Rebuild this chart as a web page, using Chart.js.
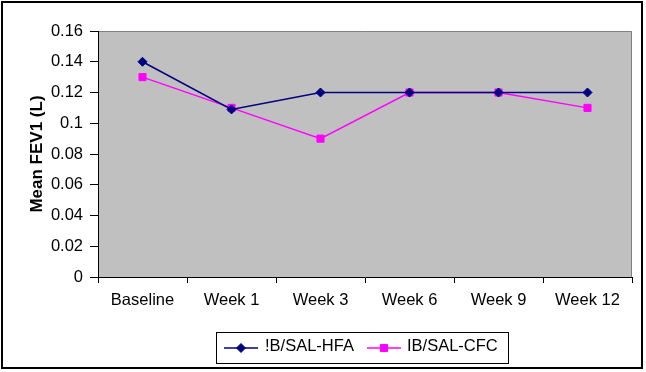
<!DOCTYPE html>
<html>
<head>
<meta charset="utf-8">
<script src="https://cdn.jsdelivr.net/npm/chart.js@4"></script>
<style>
  html, body { margin: 0; padding: 0; background: #ffffff; }
  #wrap { width: 646px; height: 372px; position: relative; }
</style>
</head>
<body>
<div id="wrap"><canvas id="c" width="646" height="372"></canvas></div>
<script>
const categories = ['Baseline', 'Week 1', 'Week 3', 'Week 6', 'Week 9', 'Week 12'];
const hfaValues = [0.14, 0.109, 0.12, 0.12, 0.12, 0.12];
const cfcValues = [0.13, 0.11, 0.09, 0.12, 0.12, 0.11];
const yTickLabels = ['0', '0.02', '0.04', '0.06', '0.08', '0.1', '0.12', '0.14', '0.16'];
const seriesNames = ['!B/SAL-HFA', 'IB/SAL-CFC'];
const yTitle = 'Mean FEV1 (L)';

const FONT = '"Liberation Sans", Arial, sans-serif';

const framePlugin = {
  id: 'frame',
  beforeDraw(chart) {
    const { ctx, chartArea: a } = chart;
    ctx.save();
    ctx.fillStyle = '#c0c0c0';
    ctx.fillRect(a.left, a.top, a.right - a.left, a.bottom - a.top);
    ctx.strokeStyle = '#808080';
    ctx.lineWidth = 1;
    ctx.beginPath();
    ctx.moveTo(a.left, a.top + 0.5);
    ctx.lineTo(a.right - 0.5, a.top + 0.5);
    ctx.lineTo(a.right - 0.5, a.bottom);
    ctx.stroke();
    ctx.restore();
  },
  afterDraw(chart) {
    const ctx = chart.ctx;
    ctx.save();
    ctx.strokeStyle = '#000000';
    ctx.lineWidth = 2;
    ctx.strokeRect(2, 2, 640, 366);
    ctx.lineWidth = 1;
    ctx.strokeRect(216.5, 332.5, 292, 31);
    const items = [
      { x0: 224, x1: 258, mx: 241, tx: 265 },
      { x0: 367, x1: 401, mx: 384, tx: 407 }
    ];
    const ly = 348;
    chart.data.datasets.forEach((ds, i) => {
      const it = items[i];
      ctx.strokeStyle = ds.borderColor;
      ctx.lineWidth = ds.borderWidth;
      ctx.beginPath();
      ctx.moveTo(it.x0, ly);
      ctx.lineTo(it.x1, ly);
      ctx.stroke();
      ctx.fillStyle = ds.pointBackgroundColor;
      ctx.strokeStyle = ds.pointBorderColor;
      ctx.lineWidth = ds.pointBorderWidth;
      Chart.helpers.drawPoint(ctx, { pointStyle: ds.pointStyle, radius: ds.pointRadius, rotation: 0, borderWidth: ds.pointBorderWidth }, it.mx, ly);
      ctx.fillStyle = '#000000';
      ctx.font = '16.5px ' + FONT;
      ctx.textAlign = 'left';
      ctx.textBaseline = 'middle';
      ctx.fillText(ds.label, it.tx, 346);
    });
    ctx.restore();
  }
};

new Chart(document.getElementById('c'), {
  type: 'line',
  data: {
    labels: categories,
    datasets: [
      {
        label: seriesNames[0],
        data: hfaValues,
        borderColor: '#000080',
        backgroundColor: '#000080',
        borderWidth: 1.5,
        pointStyle: 'rectRot',
        pointRadius: 4.5,
        pointBorderWidth: 1,
        pointBackgroundColor: '#000080',
        pointBorderColor: '#000080',
        tension: 0,
        fill: false
      },
      {
        label: seriesNames[1],
        data: cfcValues,
        borderColor: '#ff00ff',
        backgroundColor: '#ff00ff',
        borderWidth: 1.5,
        pointStyle: 'rect',
        pointRadius: 5,
        pointBorderWidth: 1,
        pointBackgroundColor: '#ff00ff',
        pointBorderColor: '#ff00ff',
        tension: 0,
        fill: false
      }
    ]
  },
  options: {
    responsive: false,
    animation: false,
    devicePixelRatio: 1,
    layout: { padding: { left: 0, top: 31, right: 14, bottom: 55 } },
    plugins: {
      legend: { display: false },
      tooltip: { enabled: false }
    },
    scales: {
      x: {
        offset: true,
        grid: {
          offset: true,
          drawOnChartArea: false,
          drawTicks: true,
          tickLength: 6,
          color: '#000000'
        },
        border: { display: true, color: '#000000', width: 1 },
        ticks: {
          color: '#000000',
          font: { family: FONT, size: 16.5 },
          padding: 8,
          maxRotation: 0,
          autoSkip: false
        },
        afterFit(scale) { scale.height = 40; }
      },
      y: {
        min: 0,
        max: 0.16,
        grid: {
          drawOnChartArea: false,
          drawTicks: true,
          tickLength: 8,
          color: '#000000'
        },
        border: { display: true, color: '#000000', width: 1 },
        ticks: {
          stepSize: 0.02,
          color: '#000000',
          font: { family: FONT, size: 16.5 },
          padding: 7,
          callback: (v, i) => yTickLabels[i]
        },
        title: {
          display: true,
          text: yTitle,
          color: '#000000',
          font: { family: FONT, size: 17, weight: 'bold' },
          padding: { top: 27, bottom: 0 }
        },
        afterFit(scale) { scale.width = 98; }
      }
    }
  },
  plugins: [framePlugin]
});
</script>
</body>
</html>
